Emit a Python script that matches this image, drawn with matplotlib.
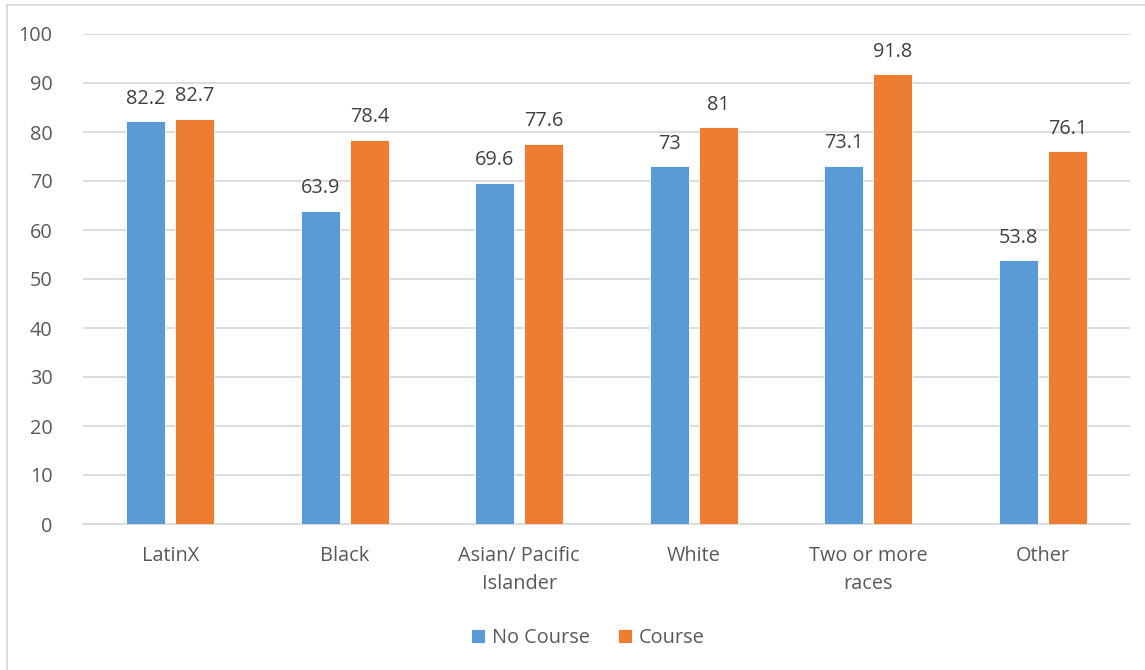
import matplotlib
matplotlib.use("Agg")
import matplotlib.pyplot as plt
import numpy as np
from matplotlib.patches import Rectangle

categories = ["LatinX", "Black", "Asian/ Pacific\nIslander", "White", "Two or more\nraces", "Other"]
no_course = [82.2, 63.9, 69.6, 73, 73.1, 53.8]
course = [82.7, 78.4, 77.6, 81, 91.8, 76.1]
series_names = ["No Course", "Course"]
yticks = [0, 10, 20, 30, 40, 50, 60, 70, 80, 90, 100]

plt.rcParams['font.family'] = ['Open Sans', 'DejaVu Sans']

W, H = 1145, 670
fig = plt.figure(figsize=(W / 100, H / 100), dpi=100)
ax = fig.add_axes([83 / W, 1 - 524 / H, (1130 - 83) / W, (524 - 34) / H])

blue = "#5B9BD5"
orange = "#ED7D31"
fs = 14.3
x = np.arange(len(categories))
bw = 0.224
off = 0.141
b1 = ax.bar(x - off, no_course, bw, color=blue, edgecolor="white", linewidth=0.6, label=series_names[0], zorder=3)
b2 = ax.bar(x + off, course, bw, color=orange, edgecolor="white", linewidth=0.6, label=series_names[1], zorder=3)

for bars, vals in ((b1, no_course), (b2, course)):
    for rect, v in zip(bars, vals):
        ax.annotate(f"{v:g}", (rect.get_x() + rect.get_width() / 2, v), xytext=(0, 9),
                    textcoords="offset points", ha="center", va="bottom",
                    fontsize=fs, color="#404040")

ax.set_xlim(-0.5, len(categories) - 0.5)
ax.set_ylim(0, 100)
ax.set_yticks(yticks)
ax.set_yticklabels([str(t) for t in yticks], fontsize=fs, color="#595959")
ax.set_xticks(x)
ax.set_xticklabels(categories, fontsize=fs, color="#595959", linespacing=1.55)
ax.tick_params(axis="both", length=0)
ax.tick_params(axis="y", pad=22)
ax.tick_params(axis="x", pad=16)
ax.yaxis.grid(True, color="#D9D9D9", linewidth=1.3, zorder=0)
ax.set_axisbelow(True)
for s in ("top", "right", "left"):
    ax.spines[s].set_visible(False)
ax.spines["bottom"].set_color("#D9D9D9")
ax.spines["bottom"].set_linewidth(1.3)

leg = fig.legend(handles=[b1, b2], labels=series_names, loc="center",
                 bbox_to_anchor=(588 / W, 1 - 638 / H), ncol=2, frameon=False,
                 fontsize=fs, handlelength=0.7, handleheight=0.7,
                 handletextpad=0.35, columnspacing=1.4)
for t in leg.get_texts():
    t.set_color("#595959")

fig.patches.append(Rectangle((7 / W, -0.05), 1.2, 1 - 5 / H + 0.05, transform=fig.transFigure,
                             fill=False, edgecolor="#D9D9D9", linewidth=1.3))

fig.savefig("out.png", dpi=100)
